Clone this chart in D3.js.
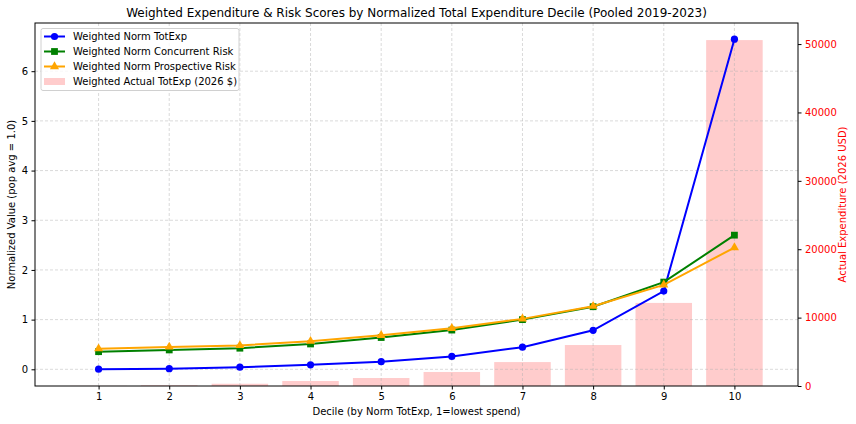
<!DOCTYPE html>
<html>
<head>
<meta charset="utf-8">
<script src="https://cdn.jsdelivr.net/npm/d3@7"></script>
<style>
  body { margin: 0; background: #fff; }
  svg { font-family: "DejaVu Sans", sans-serif; }
  .grid line { stroke: #b0b0b0; stroke-width: 0.8; stroke-dasharray: 3,2; stroke-opacity: 0.6; }
</style>
</head>
<body>
<div id="chart"></div>
<script>
// deciles y valores
var deciles = [1, 2, 3, 4, 5, 6, 7, 8, 9, 10];
var normTotExp = [0.003, 0.013, 0.043, 0.09, 0.153, 0.26, 0.445, 0.785, 1.575, 6.645];
var normConcurrent = [0.355, 0.39, 0.425, 0.51, 0.64, 0.79, 1.0, 1.26, 1.755, 2.70];
var normProspective = [0.415, 0.45, 0.48, 0.565, 0.685, 0.825, 1.015, 1.27, 1.70, 2.45];
var actualTotExp = [25, 100, 330, 730, 1170, 2050, 3500, 5990, 12150, 50580];
var leftTicks = [0, 1, 2, 3, 4, 5, 6];
var rightTicks = [0, 10000, 20000, 30000, 40000, 50000];

var W = 856, H = 424;
var margin = {top: 23, right: 58, bottom: 38, left: 35};
var width = W - margin.left - margin.right,
    height = H - margin.top - margin.bottom;

var svg = d3.select("#chart").append("svg")
    .attr("width", W).attr("height", H);
var g = svg.append("g")
    .attr("transform", "translate(" + margin.left + "," + margin.top + ")");

var x = d3.scaleLinear().domain([0.1, 10.9]).range([0, width]);
var y = d3.scaleLinear().domain([-0.336, 6.97]).range([height, 0]);
var y2 = d3.scaleLinear().domain([0, 53080]).range([height, 0]);

// barras (eje derecho)
g.selectAll(".bar")
    .data(deciles)
  .enter().append("rect")
    .attr("class", "bar")
    .attr("x", function(d) { return x(d - 0.4); })
    .attr("width", x(0.9) - x(0.1))
    .attr("y", function(d, i) { return y2(actualTotExp[i]); })
    .attr("height", function(d, i) { return y2(0) - y2(actualTotExp[i]); })
    .attr("fill", "#ffcccc");

// rejilla
g.append("g").attr("class", "grid")
    .selectAll("line").data(leftTicks).enter().append("line")
    .attr("x1", 0).attr("x2", width)
    .attr("y1", function(d) { return y(d); }).attr("y2", function(d) { return y(d); });
g.append("g").attr("class", "grid")
    .selectAll("line").data(deciles).enter().append("line")
    .attr("y1", 0).attr("y2", height)
    .attr("x1", function(d) { return x(d); }).attr("x2", function(d) { return x(d); });

// lineas
var series = [
  {name: "Weighted Norm TotExp", vals: normTotExp, color: "blue", marker: "circle"},
  {name: "Weighted Norm Concurrent Risk", vals: normConcurrent, color: "green", marker: "square"},
  {name: "Weighted Norm Prospective Risk", vals: normProspective, color: "orange", marker: "triangle"}
];

var line = d3.line()
    .x(function(d, i) { return x(deciles[i]); })
    .y(function(d) { return y(d); });

function drawMarker(sel, type, color) {
  if (type == "circle") {
    sel.append("circle").attr("r", 3.6).attr("fill", color);
  } else if (type == "square") {
    sel.append("rect").attr("x", -3.4).attr("y", -3.4).attr("width", 6.8).attr("height", 6.8).attr("fill", color);
  } else {
    sel.append("path").attr("d", d3.symbol().type(d3.symbolTriangle).size(36)()).attr("fill", color);
  }
}

series.forEach(function(s) {
  g.append("path")
      .datum(s.vals)
      .attr("fill", "none")
      .attr("stroke", s.color)
      .attr("stroke-width", 2)
      .attr("d", line);
  var m = g.selectAll(".m-" + s.marker)
      .data(s.vals)
    .enter().append("g")
      .attr("class", "m-" + s.marker)
      .attr("transform", function(d, i) { return "translate(" + x(deciles[i]) + "," + y(d) + ")"; });
  drawMarker(m, s.marker, s.color);
});

// ejes
var xAxis = g.append("g")
    .attr("transform", "translate(0," + height + ")")
    .call(d3.axisBottom(x).tickValues(deciles).tickSizeOuter(0).tickSize(3.5).tickPadding(3.5));
var yAxis = g.append("g")
    .call(d3.axisLeft(y).tickValues(leftTicks).tickSizeOuter(0).tickSize(3.5).tickPadding(3.5));
var y2Axis = g.append("g")
    .attr("transform", "translate(" + width + ",0)")
    .call(d3.axisRight(y2).tickValues(rightTicks).tickFormat(d3.format("d")).tickSizeOuter(0).tickSize(3.5).tickPadding(3.5));

[xAxis, yAxis, y2Axis].forEach(function(a) {
  a.selectAll("text").attr("font-size", 10).attr("font-family", "DejaVu Sans").attr("fill", "#000");
  a.select(".domain").remove();
});
y2Axis.selectAll("text").attr("fill", "red");
y2Axis.selectAll("line").attr("stroke", "#000");

g.append("rect")
    .attr("width", width).attr("height", height)
    .attr("fill", "none").attr("stroke", "#000").attr("stroke-width", 1);

// titulos
svg.append("text")
    .attr("x", margin.left + width / 2).attr("y", 17)
    .attr("text-anchor", "middle").attr("font-size", 12)
    .text("Weighted Expenditure & Risk Scores by Normalized Total Expenditure Decile (Pooled 2019-2023)");
svg.append("text")
    .attr("x", margin.left + width / 2).attr("y", 415)
    .attr("text-anchor", "middle").attr("font-size", 10)
    .text("Decile (by Norm TotExp, 1=lowest spend)");
svg.append("text")
    .attr("transform", "translate(15," + (margin.top + height / 2) + ") rotate(-90)")
    .attr("text-anchor", "middle").attr("font-size", 10)
    .text("Normalized Value (pop avg = 1.0)");
svg.append("text")
    .attr("transform", "translate(845.5," + (margin.top + height / 2) + ") rotate(-90)")
    .attr("text-anchor", "middle").attr("font-size", 10).attr("fill", "red")
    .text("Actual Expenditure (2026 USD)");

// leyenda
var legend = g.append("g").attr("transform", "translate(6,5.5)");
legend.append("rect")
    .attr("width", 198).attr("height", 62).attr("rx", 2)
    .attr("fill", "#fff").attr("fill-opacity", 0.8)
    .attr("stroke", "#d0d0d0");
series.forEach(function(s, i) {
  var ly = 8 + i * 15;
  var row = legend.append("g").attr("transform", "translate(0," + ly + ")");
  row.append("line").attr("x1", 3).attr("x2", 24).attr("y1", 0).attr("y2", 0)
      .attr("stroke", s.color).attr("stroke-width", 2);
  var mk = row.append("g").attr("transform", "translate(13.5,0)");
  drawMarker(mk, s.marker, s.color);
  row.append("text").attr("x", 32).attr("y", 3.5).attr("font-size", 10).text(s.name);
});
var lb = legend.append("g").attr("transform", "translate(0,53)");
lb.append("rect").attr("x", 3).attr("y", -3.5).attr("width", 21).attr("height", 7).attr("fill", "#ffcccc");
lb.append("text").attr("x", 32).attr("y", 3.5).attr("font-size", 10).text("Weighted Actual TotExp (2026 $)");
</script>
</body>
</html>
